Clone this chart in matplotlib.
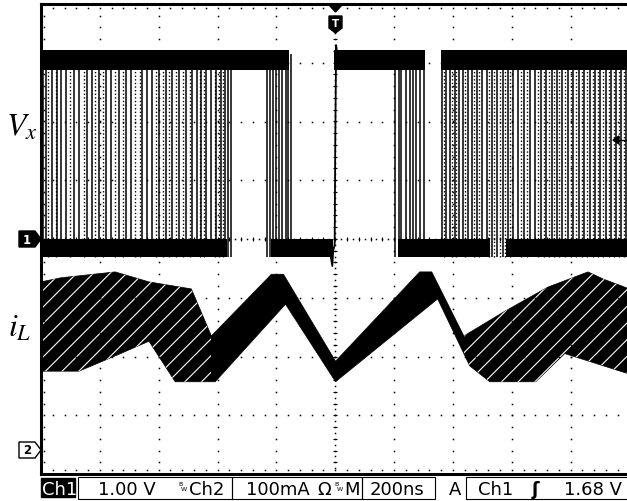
import numpy as np
import matplotlib
matplotlib.use("Agg")
import matplotlib.pyplot as plt
from matplotlib.patches import Polygon, Rectangle

plt.rcParams['mathtext.fontset'] = 'stix'
plt.rcParams['hatch.linewidth'] = 0.8

# ---------------- data ----------------
TIME_PER_DIV = 200        # ns / div
CH1_V_PER_DIV = 1.0       # V / div
CH2_MA_PER_DIV = 100      # mA / div
CH2_OFFSET_DIV = -3.6     # ground marker of Ch2

# Vx (Ch1) persistence: bands and switching edges (time in ns, trigger at 0)
vx_high_segments = [(-1000, -156), (-3, 304), (358, 1000)]
vx_high_level = 3.05
vx_low_segments = [(-1000, -367), (-217, -9), (212, 525), (579, 1000)]
vx_low_level = -0.15
vx_band_half = 0.17
vx_edge_low = -0.30
vx_edge_high = 3.15

vx_edges_solid = [-993, -983, -962, -945, -932, -915, -888, -871, -843, -826,
                  -803, -779, -762, -735, -711, -694, -656, -639, -622, -598,
                  -574, -554, -530, -506, -486, -469, -455, -438, -421, -404,
                  -387, -373, -363, -353,
                  -231, -221, -210, -200, -190, -180, -169, -159, -152,
                  202, 215, 225, 239, 253, 263, 276, 287, 301,
                  362, 375, 389, 406, 420, 433, 450, 464, 481, 498, 515, 532,
                  549, 569, 587, 604, 621, 641, 662, 679, 699, 716, 736, 754,
                  771, 791, 808, 829, 846, 866, 883, 900, 921, 938, 955, 972, 989]
vx_edges_dotted = [-975, -950, -900, -855, -815, -790, -750, -720, -680, -665,
                   -610, -585, -565, -540, -518, -495, -460, -445, -410, -395, -380,
                   368, 396, 412, 442, 472, 490, 522, 540, 560, 578, 595, 630,
                   650, 690, 708, 726, 745, 762, 780, 800, 818, 838, 856, 875,
                   892, 910, 930, 946, 964, 980]
vx_trig_t = [-20, -10, -7, -2, 0, 3, 8, 20]
vx_trig_v = [-0.15, -0.46, -0.20, -0.10, 1.6, 3.30, 3.10, 3.05]

# iL (Ch2) persistence envelope (time ns, current mA)
il_upper_t = [-1000, -932, -748, -633, -489, -421, -217, -176, 1, 287, 328, 437,
              573, 722, 859, 910, 1000]
il_upper_i = [287, 294, 304, 287, 275, 195, 300, 300, 152, 304, 304, 195,
              236, 278, 304, 292, 275]
il_lower_t = [-1000, -871, -748, -633, -544, -408, -169, 1, 348, 457, 525,
              681, 780, 1000]
il_lower_i = [135, 135, 161, 186, 117, 117, 249, 117, 258, 144, 117,
              117, 165, 130]
il_fan_ranges = [(-1000, -421), (437, 1000)]

# status line
status_ch1 = "Ch1"
status_ch1_scale = "1.00 V"
status_ch2 = "Ch2"
status_ch2_scale = "100mA"
status_time = "200ns"
status_trig = "1.68 V"

# ---------------- figure ----------------
W, H = 627, 502
fig = plt.figure(figsize=(W / 100, H / 100), dpi=100)
fig.patch.set_facecolor('white')


def fx(px):
    return px / W


def fy(py):
    return 1 - py / H


ax = fig.add_axes([fx(41), fy(475), 588.5 / W, 470 / H])
ax.set_xlim(-5 * TIME_PER_DIV, 5 * TIME_PER_DIV)
ax.set_ylim(-4, 4)
ax.set_xticks([])
ax.set_yticks([])
for s in ['left', 'top', 'bottom']:
    ax.spines[s].set_linewidth(2.2)
ax.spines['right'].set_visible(False)

# graticule
minor_t = np.arange(-1000, 1001, 40)
minor_y = np.arange(-4, 4.01, 0.2)
for gt in np.arange(-800, 801, 200):
    if gt == 0:
        continue
    ax.plot(np.full_like(minor_y, gt), minor_y, ls='none', marker='s', ms=1.1, color='black', mew=0)
for gy in range(-3, 4):
    if gy == 0:
        continue
    ax.plot(minor_t, np.full_like(minor_t, gy, dtype=float), ls='none', marker='s', ms=1.1, color='black', mew=0)
# center cross
fine_y = np.arange(-4, 4.01, 0.1)
fine_t = np.arange(-1000, 1001, 20)
ax.plot(np.zeros_like(fine_y), fine_y, ls='none', marker='s', ms=1.1, color='black', mew=0)
ax.plot(fine_t, np.zeros_like(fine_t, dtype=float), ls='none', marker='s', ms=1.1, color='black', mew=0)
ax.plot(np.zeros_like(minor_y), minor_y, ls='none', marker='_', ms=3.5, color='black', mew=0.8)
ax.plot(minor_t, np.zeros_like(minor_t, dtype=float), ls='none', marker='|', ms=3.5, color='black', mew=0.8)
# border ticks
ax.plot(minor_t, np.full_like(minor_t, 3.94, dtype=float), ls='none', marker='s', ms=1.1, color='black', mew=0)
ax.plot(minor_t, np.full_like(minor_t, -3.94, dtype=float), ls='none', marker='s', ms=1.1, color='black', mew=0)
ax.plot(np.full_like(minor_y, -990), minor_y, ls='none', marker='s', ms=1.1, color='black', mew=0)

# ---- Vx ----
def ch1(v):
    return np.asarray(v, dtype=float) / CH1_V_PER_DIV


for a, b in vx_high_segments:
    ax.fill_between([a, b], ch1([vx_high_level - vx_band_half] * 2),
                    ch1([vx_high_level + vx_band_half] * 2), color='black', lw=0)
for a, b in vx_low_segments:
    ax.fill_between([a, b], ch1([vx_low_level - vx_band_half * 0.9] * 2),
                    ch1([vx_low_level + vx_band_half * 0.9] * 2), color='black', lw=0)
ax.vlines(vx_edges_solid, ch1(vx_edge_low), ch1(vx_edge_high), color='black', lw=1.1)
ax.vlines(vx_edges_dotted, ch1(vx_edge_low), ch1(vx_edge_high), color='black', lw=1.0,
          linestyles=[(0, (1.0, 1.6))])
ax.plot(vx_trig_t, ch1(vx_trig_v), color='black', lw=1.3)

# ---- iL ----
def ch2(i):
    return CH2_OFFSET_DIV + np.asarray(i, dtype=float) / CH2_MA_PER_DIV


poly_t = list(il_upper_t) + list(il_lower_t[::-1])
poly_y = list(ch2(il_upper_i)) + list(ch2(il_lower_i[::-1]))
ax.fill(poly_t, poly_y, color='black', lw=0.5)
for a, b in il_fan_ranges:
    hp = ax.fill(poly_t, poly_y, facecolor='none', edgecolor='white', hatch='//', lw=0)[0]
    clip = Rectangle((a, -4), b - a, 8, transform=ax.transData)
    hp.set_clip_path(clip)

# ---------------- decorations ----------------
def pxpoly(pts, **kw):
    p = Polygon([(fx(x), fy(y)) for x, y in pts], closed=True, transform=fig.transFigure, **kw)
    fig.add_artist(p)


# channel markers
pxpoly([(19, 232), (35, 232), (41, 240), (35, 248), (19, 248)], facecolor='black', edgecolor='black')
fig.text(fx(27), fy(240), '1', color='white', fontsize=8.5, fontweight='bold', ha='center', va='center')
pxpoly([(19, 443), (35, 443), (41, 451), (35, 459), (19, 459)], facecolor='white', edgecolor='black', lw=1)
fig.text(fx(27), fy(451), '2', color='black', fontsize=8.5, fontweight='bold', ha='center', va='center')
# trigger position marker
pxpoly([(329, 6), (342, 6), (335.5, 13)], facecolor='black', edgecolor='black')
pxpoly([(329, 17), (342, 17), (342, 29), (335.5, 34), (329, 29)], facecolor='black', edgecolor='black')
fig.text(fx(335.5), fy(24), 'T', color='white', fontsize=7.5, fontweight='bold', ha='center', va='center')
# trigger level arrow
pxpoly([(613, 141), (619, 137), (619, 145)], facecolor='black', edgecolor='black')
fig.add_artist(plt.Line2D([fx(617), fx(627)], [fy(141), fy(141)], transform=fig.transFigure, color='black', lw=1))

# signal labels
fig.text(fx(6), fy(136), r'$V_x$', fontsize=23, ha='left', va='baseline')
fig.text(fx(8), fy(337), r'$i_L$', fontsize=23, ha='left', va='baseline')

# status bar
fig.add_artist(Rectangle((fx(41), fy(498)), fx(34), 19 / H, transform=fig.transFigure,
                         facecolor='black', edgecolor='black'))
for x0, x1 in [(78, 232), (232, 362), (362, 435), (466, 640)]:
    fig.add_artist(Rectangle((fx(x0), fy(500)), fx(x1 - x0), 22 / H, transform=fig.transFigure,
                             facecolor='none', edgecolor='black', lw=0.8))
fs = 13
base = fy(495)
fig.text(fx(42), base, status_ch1, color='white', fontsize=fs, va='baseline')
fig.text(fx(98), base, status_ch1_scale, fontsize=fs, va='baseline')
fig.text(fx(178), fy(486), 'B', fontsize=4.5, va='baseline')
fig.text(fx(181), fy(491), 'W', fontsize=4.5, va='baseline')
fig.text(fx(189), base, status_ch2, fontsize=fs, va='baseline')
fig.text(fx(246), base, status_ch2_scale, fontsize=fs, va='baseline')
fig.text(fx(317), base, 'Ω', fontsize=fs, va='baseline')
fig.text(fx(334), fy(486), 'B', fontsize=4.5, va='baseline')
fig.text(fx(337), fy(491), 'W', fontsize=4.5, va='baseline')
fig.text(fx(344), base, 'M', fontsize=fs, va='baseline')
fig.text(fx(370), base, status_time, fontsize=fs, va='baseline')
fig.text(fx(449), base, 'A', fontsize=fs, va='baseline')
fig.text(fx(478), base, status_ch1, fontsize=fs, va='baseline')
fig.text(fx(532), base, 'ʃ', fontsize=fs, va='baseline', fontweight='bold')
fig.text(fx(564), base, status_trig, fontsize=fs, va='baseline')

fig.savefig('out.png', dpi=100, facecolor='white')
